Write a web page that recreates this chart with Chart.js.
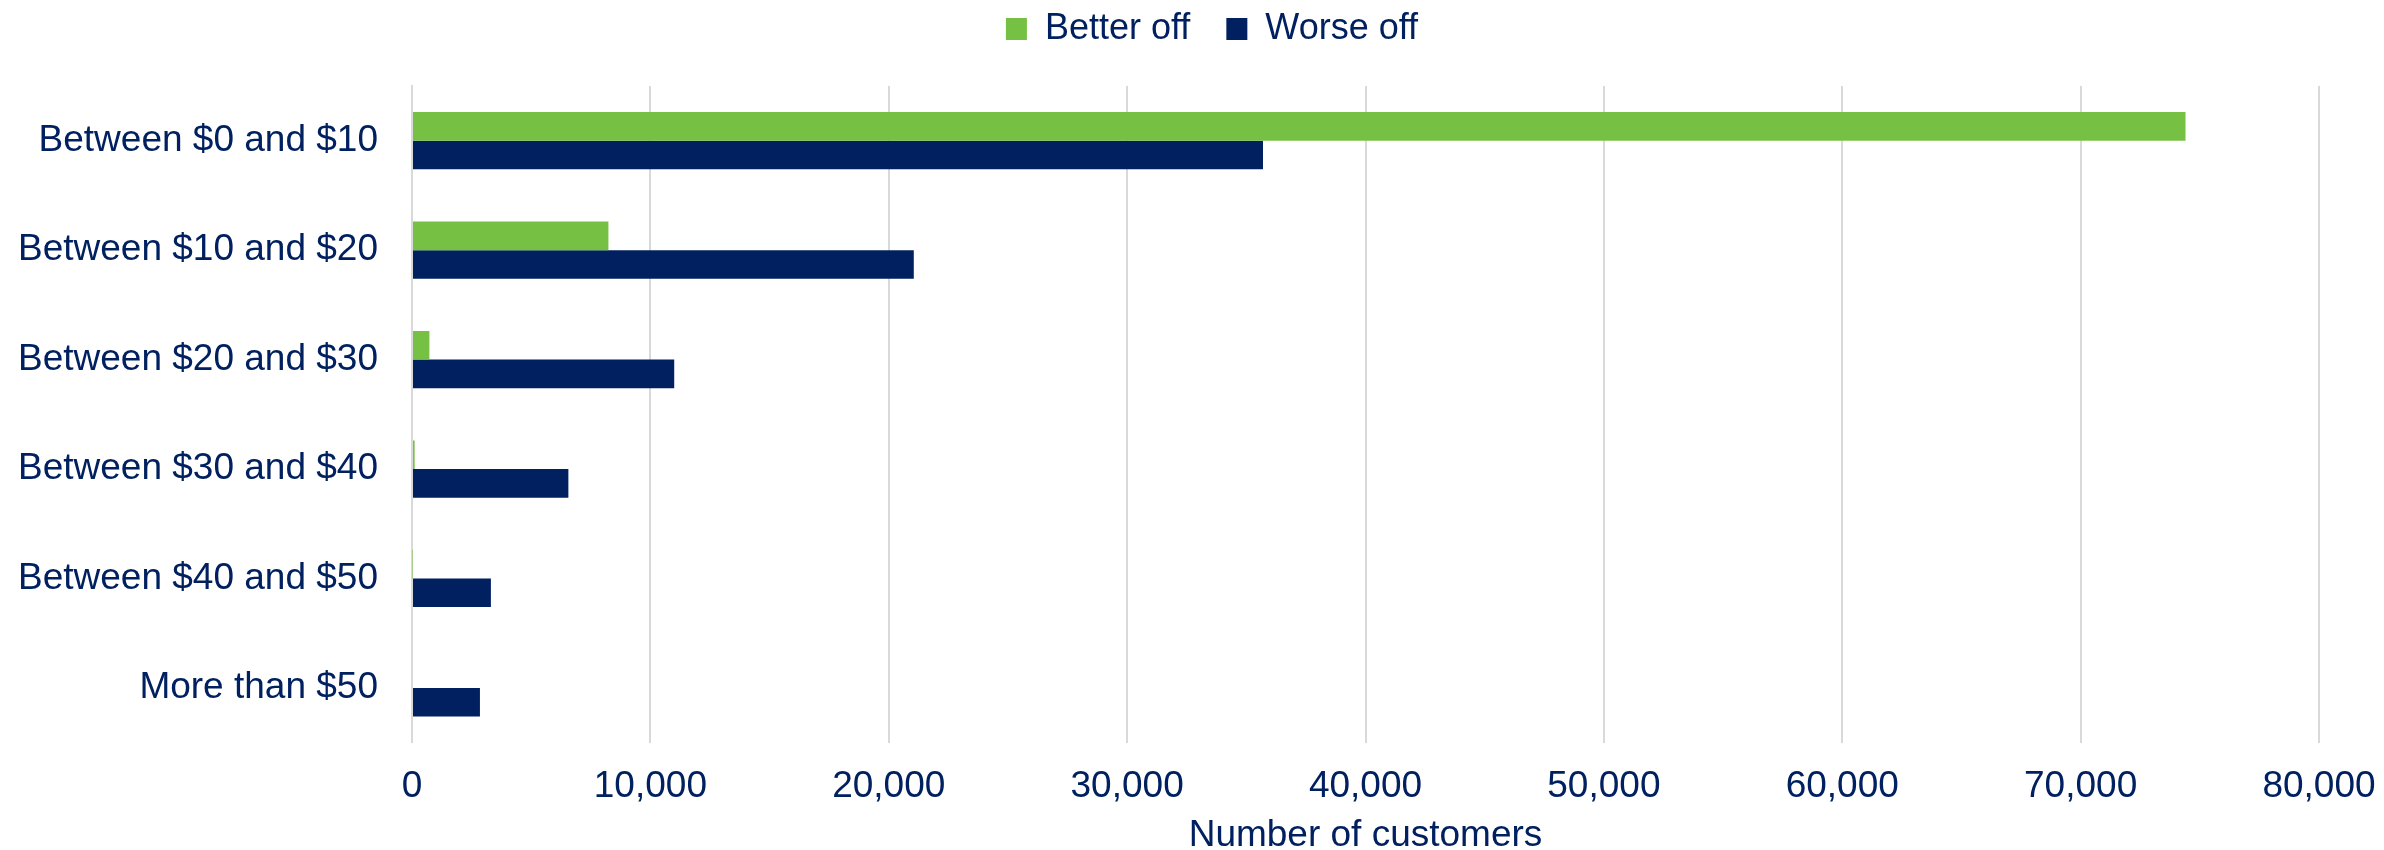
<!DOCTYPE html>
<html>
<head>
<meta charset="utf-8">
<script src="https://cdn.jsdelivr.net/npm/chart.js@4/dist/chart.umd.min.js"></script>
<style>
	html, body { margin: 0; padding: 0; background: #fff; }
	#wrap { width: 2384px; height: 850px; }
</style>
</head>
<body>
<div id="wrap"><canvas id="chart" width="2384" height="850"></canvas></div>
<script>
const categories = [
	'Between $0 and $10',
	'Between $10 and $20',
	'Between $20 and $30',
	'Between $30 and $40',
	'Between $40 and $50',
	'More than $50',
];
const betterOff = [74400, 8240, 730, 110, 20, 0];
const worseOff = [35700, 21050, 11000, 6560, 3310, 2850];
const xTicks = [0, 10000, 20000, 30000, 40000, 50000, 60000, 70000, 80000];

const navy = '#002060';
const green = '#76c044';

Chart.defaults.font.family = '"Liberation Sans", Arial, sans-serif';
Chart.defaults.color = navy;

// legend sits close to the top, plot starts lower; nudge legend a bit right
const legendSpace = {
	id: 'legendSpace',
	beforeInit(chart) {
		const fit = chart.legend.fit;
		chart.legend.fit = function () {
			fit.bind(chart.legend)();
			this.height = 111;
		};
	},
	afterLayout(chart) {
		chart.legend.left += 14;
		chart.legend.right += 14;
	}
};

const data = {
	labels: categories,
	datasets: [{
		label: 'Better off',
		data: betterOff,
		backgroundColor: green,
	}, {
		label: 'Worse off',
		data: worseOff,
		backgroundColor: navy,
	}],
};

const config = {
	type: 'bar',
	data: data,
	plugins: [legendSpace],
	options: {
		indexAxis: 'y',
		responsive: false,
		animation: false,
		layout: {
			padding: { left: 12, right: 0, top: -25, bottom: -4 },
		},
		datasets: {
			bar: {
				categoryPercentage: 0.523,
				barPercentage: 1.0,
			}
		},
		plugins: {
			legend: {
				position: 'top',
				labels: {
					boxWidth: 21,
					boxHeight: 22,
					padding: 36,
					font: { size: 36 },
					color: navy,
				},
			},
			tooltip: { enabled: false },
		},
		scales: {
			x: {
				min: 0,
				max: 80000,
				afterBuildTicks: function (axis) {
					axis.ticks = xTicks.map(v => ({ value: v }));
				},
				afterFit: function (scale) {
					scale.paddingRight = 65;
				},
				ticks: {
					font: { size: 37 },
					color: navy,
					padding: 22,
					maxRotation: 0,
					callback: v => v.toLocaleString('en-US'),
				},
				grid: {
					color: '#d9d9d9',
					lineWidth: 2,
					drawTicks: false,
				},
				border: { display: false },
				title: {
					display: true,
					text: 'Number of customers',
					font: { size: 37, lineHeight: 1 },
					color: navy,
					padding: { top: -14, bottom: 0 },
				},
			},
			y: {
				afterFit: function (scale) {
					scale.width = 400;
				},
				ticks: {
					font: { size: 37 },
					color: navy,
					padding: 34,
				},
				grid: { display: false, drawTicks: false },
				border: { display: true, color: '#d9d9d9', width: 2 },
			},
		},
	},
};

const ctx = document.getElementById('chart');
const myChart = new Chart(ctx, config);
</script>
</body>
</html>
